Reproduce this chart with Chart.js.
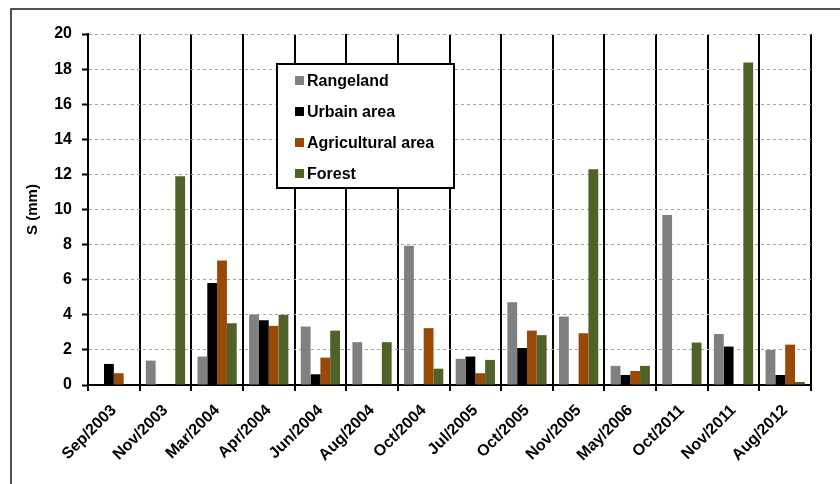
<!DOCTYPE html>
<html>
<head>
<meta charset="utf-8">
<script src="https://cdn.jsdelivr.net/npm/chart.js@4/dist/chart.umd.min.js"></script>
<style>
  html, body { margin: 0; padding: 0; background: #ffffff; }
  #wrap { width: 840px; height: 484px; position: relative; }
</style>
</head>
<body>
<div id="wrap"><canvas id="c" width="840" height="484"></canvas></div>
<script>
// Sampling dates
const categories = ['Sep/2003', 'Nov/2003', 'Mar/2004', 'Apr/2004', 'Jun/2004', 'Aug/2004', 'Oct/2004',
                    'Jul/2005', 'Oct/2005', 'Nov/2005', 'May/2006', 'Oct/2011', 'Nov/2011', 'Aug/2012'];

// Subsidence S (mm) per land-use class
const rangeland    = [0,    1.39, 1.62, 4.02, 3.33, 2.44, 7.94, 1.49, 4.72, 3.90, 1.09, 9.68, 2.91, 2.00];
const urbanArea    = [1.20, 0,    5.81, 3.69, 0.61, 0,    0,    1.62, 2.11, 0,    0.57, 0,    2.19, 0.57];
const agricultural = [0.67, 0,    7.09, 3.37, 1.56, 0,    3.24, 0.67, 3.10, 2.95, 0.80, 0,    0,    2.30];
const forest       = [0,    11.9, 3.52, 4.00, 3.10, 2.44, 0.93, 1.43, 2.84, 12.29, 1.09, 2.42, 18.38, 0.17];

// Value axis ticks
const yTicks = [0, 2, 4, 6, 8, 10, 12, 14, 16, 18, 20];

const seriesNames  = ['Rangeland', 'Urbain area', 'Agricultural area', 'Forest'];
const seriesColors = ['#808080', '#000000', '#984807', '#4f6228'];
const seriesData   = [rangeland, urbanArea, agricultural, forest];

const FONT = '"Liberation Sans", Arial, sans-serif';

// Outer frame around the whole figure
const framePlugin = {
  id: 'frame',
  beforeDraw(chart) {
    const ctx = chart.ctx;
    ctx.save();
    ctx.fillStyle = '#ffffff';
    ctx.fillRect(0, 0, chart.width, chart.height);
    ctx.strokeStyle = '#1a1a1a';
    ctx.lineWidth = 1.5;
    ctx.strokeRect(11, 9, chart.width + 20, chart.height + 20);
    ctx.restore();
  }
};

// Boxed legend drawn inside the plot area
const boxLegendPlugin = {
  id: 'boxLegend',
  afterDraw(chart) {
    const ctx = chart.ctx;
    const x0 = 277, y0 = 64, w = 177, h = 124;
    ctx.save();
    ctx.fillStyle = '#ffffff';
    ctx.fillRect(x0, y0, w, h);
    ctx.strokeStyle = '#000000';
    ctx.lineWidth = 2;
    ctx.strokeRect(x0, y0, w, h);
    ctx.font = 'bold 16px ' + FONT;
    ctx.textBaseline = 'middle';
    ctx.textAlign = 'left';
    chart.data.datasets.forEach((ds, i) => {
      const cy = y0 + 17 + i * 31;
      ctx.fillStyle = ds.backgroundColor;
      ctx.fillRect(x0 + 18, cy - 5, 9, 9);
      ctx.fillStyle = '#000000';
      ctx.fillText(ds.label, x0 + 30, cy + 1);
    });
    ctx.restore();
  }
};

new Chart(document.getElementById('c'), {
  type: 'bar',
  data: {
    labels: categories,
    datasets: seriesNames.map((name, i) => ({
      label: name,
      data: seriesData[i],
      backgroundColor: seriesColors[i],
      borderWidth: 0,
      categoryPercentage: 0.76,
      barPercentage: 1.0
    }))
  },
  options: {
    responsive: false,
    animation: false,
    devicePixelRatio: 1,
    layout: { padding: { left: 10, right: 29, top: 34, bottom: 0 } },
    plugins: {
      legend: { display: false },
      tooltip: { enabled: false }
    },
    scales: {
      x: {
        grid: {
          offset: true,
          color: '#000000',
          lineWidth: 2,
          drawTicks: true,
          tickLength: 6,
          tickColor: '#000000',
          tickWidth: 2
        },
        border: { display: true, color: '#000000', width: 2 },
        ticks: {
          autoSkip: false,
          maxRotation: 45,
          minRotation: 45,
          color: '#000000',
          padding: 10,
          font: { family: FONT, size: 16, weight: 'bold' }
        },
        afterFit(scale) { scale.height = 99; }
      },
      y: {
        min: 0,
        max: 20,
        afterBuildTicks(scale) { scale.ticks = yTicks.map(v => ({ value: v })); },
        grid: {
          color: '#a6a6a6',
          lineWidth: 1,
          drawTicks: true,
          tickLength: 6,
          tickColor: '#000000',
          tickWidth: 2,
          tickBorderDash: []
        },
        border: { display: true, color: '#000000', width: 2, dash: [3, 3] },
        ticks: {
          color: '#000000',
          padding: 10,
          font: { family: FONT, size: 16, weight: 'bold' }
        },
        title: {
          display: true,
          text: 'S (mm)',
          color: '#000000',
          padding: { top: 14, bottom: 0 },
          font: { family: FONT, size: 15, weight: 'bold' }
        },
        afterFit(scale) { scale.width = 78; }
      }
    }
  },
  plugins: [framePlugin, boxLegendPlugin]
});
</script>
</body>
</html>
